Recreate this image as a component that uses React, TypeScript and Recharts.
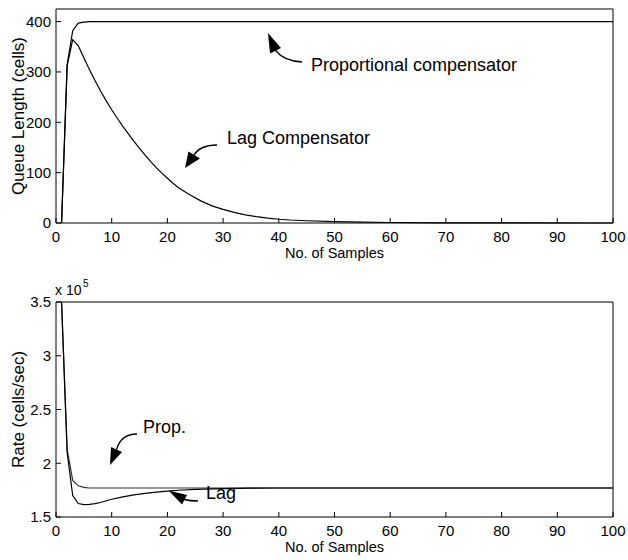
import { LineChart, Line, XAxis, YAxis } from 'recharts'

// queue length (cells) vs sample number
const propQueueSamples = [1, 2, 3, 4, 5, 6, 100]
const propQueueValues = [0, 314, 382, 397, 399, 400, 400]

const lagQueueSamples = [
  1, 2, 3, 4, 5, 6, 7, 8, 9, 10, 11, 12, 13, 14, 15, 16, 17, 18, 19, 20, 21, 22, 24, 26, 28, 30,
  32, 34, 36, 38, 40, 42, 45, 50, 55, 60, 70, 80, 100,
]
const lagQueueValues = [
  0, 312, 364, 352, 328, 305, 283, 262, 243, 225, 208, 192, 177, 162, 148, 135, 122, 110, 99, 89,
  79, 70, 56, 44, 34, 27, 21, 16, 12.5, 9.5, 7.5, 6, 4.5, 2.8, 1.7, 1, 0.4, 0.1, 0,
]

// rate (cells/sec) vs sample number
const propRateSamples = [1, 2, 3, 4, 5, 6, 100]
const propRateValues = [350000, 213000, 184000, 179000, 177500, 177000, 177000]

const lagRateSamples = [1, 2, 3, 4, 5, 6, 7, 8, 10, 12, 14, 16, 18, 20, 22, 25, 30, 35, 40, 100]
const lagRateValues = [
  350000, 210000, 170000, 162500, 161500, 161800, 162500, 163500, 166500, 168800, 170500, 172000,
  173200, 174100, 174900, 175700, 176400, 176800, 177000, 177000,
]

const sampleTicks = [0, 10, 20, 30, 40, 50, 60, 70, 80, 90, 100]
const queueTicks = [0, 100, 200, 300, 400]
const rateTicks = [150000, 200000, 250000, 300000, 350000]

const toPoints = (xs: number[], ys: number[]) => xs.map((x, i) => ({ x, y: ys[i] }))

const font = '"Liberation Sans", Arial, Helvetica, sans-serif'
const tickStyle = { fill: '#000', fontSize: 15, fontFamily: font }
const black = { stroke: '#000' }

function YTitle({ viewBox, text }: any) {
  const cx = viewBox.x + 12
  const cy = viewBox.y + viewBox.height / 2
  return (
    <text
      x={cx}
      y={cy}
      transform={`rotate(-90 ${cx} ${cy})`}
      textAnchor="middle"
      dominantBaseline="central"
      fontSize={17}
      fontFamily={font}
      fill="#000"
    >
      {text}
    </text>
  )
}

function Panel({
  top,
  bottom,
  domain,
  yTicks,
  yFormat,
  yTitle,
  series,
}: {
  top: number
  bottom: number
  domain: [number, number]
  yTicks: number[]
  yFormat?: (v: number) => string
  yTitle: string
  series: { data: { x: number; y: number }[]; color: string }[]
}) {
  return (
    <LineChart width={628} height={280} margin={{ top: top - 1, right: 14, bottom, left: 6 }}>
      <XAxis
        xAxisId="b"
        dataKey="x"
        type="number"
        domain={[0, 100]}
        ticks={sampleTicks}
        interval={0}
        height={40}
        tickSize={-5}
        tickMargin={13}
        axisLine={black}
        tickLine={black}
        tick={tickStyle}
        label={{
          value: 'No. of Samples',
          position: 'insideBottom',
          offset: 5,
          fill: '#000',
          fontSize: 14.5,
          fontFamily: font,
        }}
      />
      <XAxis
        xAxisId="t"
        orientation="top"
        dataKey="x"
        type="number"
        domain={[0, 100]}
        ticks={sampleTicks}
        interval={0}
        height={1}
        tickSize={-5}
        axisLine={black}
        tickLine={black}
        tick={false}
      />
      <YAxis
        yAxisId="l"
        type="number"
        domain={domain}
        ticks={yTicks}
        interval={0}
        width={50}
        tickSize={-5}
        tickMargin={10}
        tickFormatter={yFormat}
        axisLine={black}
        tickLine={black}
        tick={tickStyle}
        label={<YTitle text={yTitle} />}
      />
      <YAxis
        yAxisId="r"
        orientation="right"
        type="number"
        domain={domain}
        ticks={yTicks}
        interval={0}
        width={1}
        tickSize={-5}
        axisLine={black}
        tickLine={black}
        tick={false}
      />
      {series.map((s, i) => (
        <Line
          key={i}
          xAxisId="b"
          yAxisId="l"
          data={s.data}
          dataKey="y"
          type="linear"
          stroke={s.color}
          strokeWidth={1.2}
          dot={false}
          activeDot={false}
          isAnimationActive={false}
        />
      ))}
      {/* keeps the top/right frame axes bound to a series */}
      <Line
        xAxisId="t"
        yAxisId="r"
        data={series[0].data}
        dataKey="y"
        stroke="none"
        dot={false}
        activeDot={false}
        legendType="none"
        isAnimationActive={false}
      />
    </LineChart>
  )
}

function Arrow({ d, head }: { d: string; head: string }) {
  return (
    <g>
      <path d={d} fill="none" stroke="#000" strokeWidth={1.3} />
      <polygon points={head} fill="#000" />
    </g>
  )
}

export default function App() {
  return (
    <div style={{ position: 'absolute', left: 0, top: 0, width: 628, height: 560, background: '#fff' }}>
      <Panel
        top={9}
        bottom={17}
        domain={[0, 425]}
        yTicks={queueTicks}
        yTitle="Queue Length (cells)"
        series={[
          { data: toPoints(propQueueSamples, propQueueValues), color: '#000' },
          { data: toPoints(lagQueueSamples, lagQueueValues), color: '#000' },
        ]}
      />
      <Panel
        top={22}
        bottom={3}
        domain={[150000, 350000]}
        yTicks={rateTicks}
        yFormat={(v) => String(v / 100000)}
        yTitle="Rate (cells/sec)"
        series={[
          { data: toPoints(propRateSamples, propRateValues), color: '#333' },
          { data: toPoints(lagRateSamples, lagRateValues), color: '#000' },
        ]}
      />
      <svg
        width={628}
        height={560}
        style={{ position: 'absolute', left: 0, top: 0, pointerEvents: 'none' }}
        fontFamily={font}
      >
        <Arrow d="M302,62 Q284,61 275.5,50.5" head="268,33 270,53.5 281,48" />
        <text x={311} y={71} fontSize={18}>Proportional compensator</text>

        <Arrow d="M217,145 Q200,145 194,155" head="185,168 188.5,151.5 200,158.5" />
        <text x={227} y={144} fontSize={18}>Lag Compensator</text>

        <Arrow d="M137,434 Q121,434 116.5,449.5" head="110,465 111,447 122,452" />
        <text x={143} y={433} fontSize={18}>Prop.</text>

        <Arrow d="M198,501 Q190,501 184,499.5" head="168.5,490.5 187,495 182,504.5" />
        <text x={206} y={499} fontSize={18}>Lag</text>

        <text x={55} y={295} fontSize={14}>x 10</text>
        <text x={83} y={287} fontSize={10}>5</text>
      </svg>
    </div>
  )
}
